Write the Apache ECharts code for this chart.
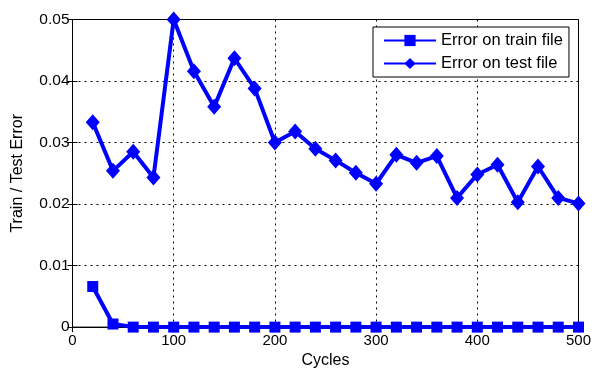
<!DOCTYPE html>
<html><head><meta charset="utf-8">
<script src="https://cdn.jsdelivr.net/npm/echarts@6/dist/echarts.min.js"></script>
<style>html,body{margin:0;padding:0;background:#fff}#c{width:594px;height:374px}</style>
</head><body><div id="c"></div>
<script>
const cycles = [20,40,60,80,100,120,140,160,180,200,220,240,260,280,300,320,340,360,380,400,420,440,460,480,500];
const trainError = [0.0066,0.0005,0,0,0,0,0,0,0,0,0,0,0,0,0,0,0,0,0,0,0,0,0,0,0];
const testError = [0.0333,0.0254,0.0285,0.0243,0.0500,0.0416,0.0358,0.0437,0.0388,0.0300,0.0318,0.0290,0.0271,0.0251,0.0233,0.0280,0.0267,0.0278,0.0210,0.0248,0.0264,0.0203,0.0261,0.0210,0.0201];
const seriesNames = ['Error on train file','Error on test file'];
const xTitle = 'Cycles';
const yTitle = 'Train / Test Error';

const font = 'Liberation Sans, Arial, Helvetica, sans-serif';
const blue = '#0000ff';
const chart = echarts.init(document.getElementById('c'), null, {renderer:'canvas'});
const tickStyle = {show:true, inside:true, length:5, lineStyle:{color:'#000', width:1}};
const gridLine = {show:true, lineStyle:{color:'#000', width:1, type:[2,4]}};
chart.setOption({
  animation:false,
  backgroundColor:'#fff',
  grid:{left:72.5, right:13, top:19.5, bottom:39, show:true, borderColor:'#000', borderWidth:1, backgroundColor:'#fff'},
  legend:{
    orient:'vertical', left:373, top:27, padding:[5,6,5,10], itemGap:6,
    itemWidth:52, itemHeight:14, align:'left',
    backgroundColor:'#fff', borderColor:'#000', borderWidth:1, borderRadius:0,
    textStyle:{fontFamily:font, fontSize:16.5, color:'#000', padding:[0,0,0,0]},
    data:seriesNames
  },
  xAxis:[{
    type:'value', min:0, max:500, interval:100, position:'bottom',
    name:xTitle, nameLocation:'middle', nameGap:24,
    nameTextStyle:{fontFamily:font, fontSize:16, color:'#000'},
    axisLine:{show:true, lineStyle:{color:'#000', width:1}},
    axisTick:tickStyle,
    axisLabel:{fontFamily:font, fontSize:15, color:'#000', margin:6},
    splitLine:gridLine
  },{
    type:'value', min:0, max:500, interval:100, position:'top',
    axisLine:{show:true, lineStyle:{color:'#000', width:1}},
    axisTick:tickStyle, axisLabel:{show:false}, splitLine:{show:false}
  }],
  yAxis:[{
    type:'value', min:0, max:0.05, interval:0.01, position:'left',
    name:yTitle, nameLocation:'middle', nameGap:47, nameRotate:90,
    nameTextStyle:{fontFamily:font, fontSize:16, color:'#000'},
    axisLine:{show:true, lineStyle:{color:'#000', width:1}},
    axisTick:tickStyle,
    axisLabel:{fontFamily:font, fontSize:15.5, color:'#000', margin:3,
      formatter:function(v){return v===0?'0':v.toFixed(2);}},
    splitLine:gridLine
  },{
    type:'value', min:0, max:0.05, interval:0.01, position:'right',
    axisLine:{show:true, lineStyle:{color:'#000', width:1}},
    axisTick:tickStyle, axisLabel:{show:false}, splitLine:{show:false}
  }],
  series:[{
    name:seriesNames[0], type:'line',
    data:cycles.map((c,i)=>[c,trainError[i]]),
    symbol:'rect', symbolSize:11,
    lineStyle:{color:blue, width:4}, itemStyle:{color:blue, borderColor:blue, borderWidth:0},
    clip:false
  },{
    name:seriesNames[1], type:'line',
    data:cycles.map((c,i)=>[c,testError[i]]),
    symbol:'diamond', symbolSize:[14,16],
    lineStyle:{color:blue, width:4}, itemStyle:{color:blue, borderColor:blue, borderWidth:0},
    clip:false
  }]
});
</script></body></html>
